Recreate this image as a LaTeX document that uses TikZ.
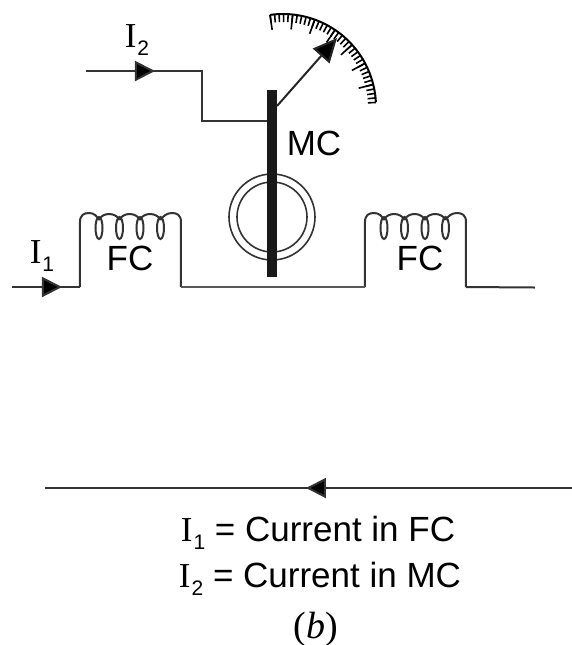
\documentclass[tikz,border=0pt]{standalone}
\usepackage{fontspec}
\setmainfont{Liberation Serif}
\setsansfont{Liberation Sans}
\usetikzlibrary{arrows.meta}
\newcommand{\ilabel}[1]{{\rmfamily I}\kern0.5pt\raisebox{-4pt}{\fontsize{10.5}{11}\selectfont #1}}
\begin{document}
\begin{tikzpicture}[x=0.5pt,y=-0.5pt]
    \tikzstyle{every node} = [font=\sffamily\fontsize{17.5}{20}\selectfont,inner sep=0pt,anchor=base]
    \tikzstyle{wire} = [line width=1pt,black!80]
    \tikzstyle{head} = [-{Triangle[length=10pt,width=10pt,fill=black]}]
    \useasboundingbox (0,0) rectangle (572,645);

    % moving coil feed
    \coordinate (i2start) at (86,71);
    \coordinate (i2head) at (155,71);
    \coordinate (i2corner) at (202,71);
    \coordinate (i2low) at (202,121);
    \coordinate (bartop) at (272.5,90);
    \coordinate (barbottom) at (272.5,277);
    \coordinate (barfeed) at (272.5,121);
    \draw[wire] (i2start) -- (i2corner) -- (i2low) -- (barfeed);
    \draw[wire,head] (i2start) -- (i2head);

    % rings and bar
    \coordinate (ringc) at (272,217);
    \draw[wire,line width=0.8pt] (ringc) circle (43);
    \draw[wire,line width=0.8pt] (ringc) circle (35);
    \draw[line width=5pt,black!90] (bartop) -- (barbottom);

    % needle and scale
    \coordinate (needlefoot) at (277,106);
    \coordinate (needletip) at (337,38);
    \draw[line width=1pt,black!85,-{Triangle[length=12pt,width=11pt,fill=black]}] (needlefoot) -- (needletip);
    \coordinate (scalec) at (283,107);
    \draw[line width=1pt] (scalec) ++(-98:93) arc[start angle=-98,end angle=-3,radius=93];
    \foreach \t in {0,1,...,34}{
        \draw[line width=0.8pt] (scalec) ++(-98+2.8*\t:93) -- ++(-98+2.8*\t+180:8);
    }
    \foreach \t in {0,5,...,30}{
        \draw[line width=0.8pt] (scalec) ++(-98+2.8*\t:93) -- ++(-98+2.8*\t+180:15);
    }

    % field coils
    \foreach \c/\n in {80/left,365/right}{
        \coordinate (\n-in) at (\c,287);
        \coordinate (\n-out) at (\c+101,287);
        \draw[wire] (\n-in) -- (\c,222) .. controls (\c,215) and (\c+4,213) .. (\c+9,213)
            .. controls (\c+14,213) and (\c+17,216) .. (\c+19,220);
        \foreach \k in {0,1,2,3}{
            \draw[wire] (\c+19+20.5*\k,228) ellipse (3.5 and 11);
        }
        \foreach \k in {0,1,2}{
            \draw[wire] (\c+19+20.5*\k,220) .. controls (\c+22+20.5*\k,212) and (\c+36+20.5*\k,212) .. (\c+39.5+20.5*\k,220);
        }
        \draw[wire] (\c+80.5,220) .. controls (\c+83,216) and (\c+87,213) .. (\c+92,213)
            .. controls (\c+97,213) and (\c+101,215) .. (\c+101,222) -- (\n-out);
    }

    % field circuit
    \coordinate (i1start) at (12,287);
    \coordinate (i1head) at (62,287);
    \coordinate (linkend) at (535,287.5);
    \draw[wire] (i1start) -- (left-in);
    \draw[wire,head] (i1start) -- (i1head);
    \draw[wire,black!65,line width=1.1pt] (left-out) -- (right-in);
    \draw[wire] (right-out) -- (linkend);

    % lower arrow
    \coordinate (dirstart) at (572,488);
    \coordinate (dirend) at (45,488);
    \coordinate (dirhead) at (306,488);
    \draw[wire] (dirstart) -- (dirend);
    \draw[wire,head] (dirstart) -- (dirhead);

    % labels
    \node (i2label) at (137,47) {\ilabel{2}};
    \node (i1label) at (42,263) {\ilabel{1}};
    \node (mclabel) at (314,155) {MC};
    \node (fcleft) at (130,270) {FC};
    \node (fcright) at (420,270) {FC};
    \node (i1text) at (318,541) {\ilabel{1} = Current in FC};
    \node (i2text) at (320,587) {\ilabel{2} = Current in MC};
    \node (sublabel) at (316,638) {\fontsize{19}{20}\selectfont\rmfamily(\textit{b})};
\end{tikzpicture}
\end{document}
